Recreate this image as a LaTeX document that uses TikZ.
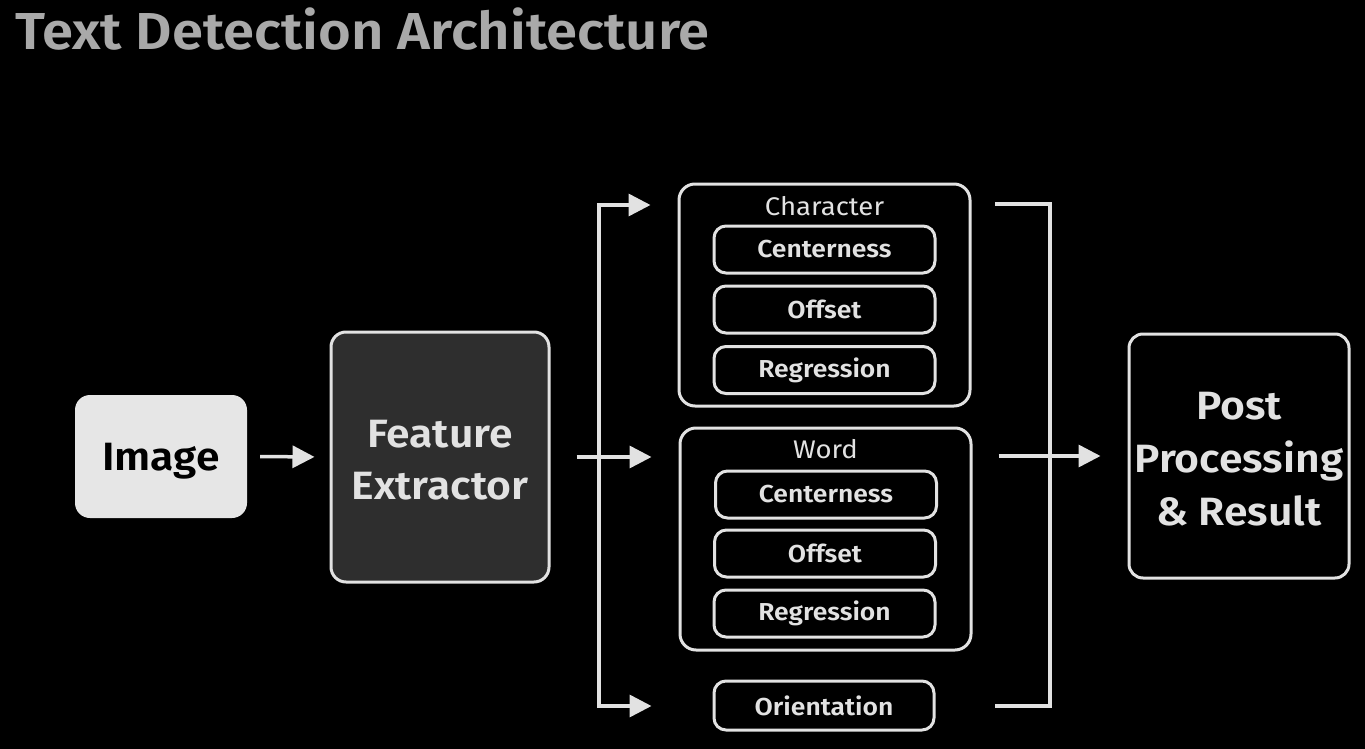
\documentclass[tikz,border=0pt]{standalone}
\usepackage{fontspec}
\setmainfont[FakeStretch=1.08]{Fira Sans}
\IfFontExistsTF{Fira Sans SemiBold}
  {\newfontfamily\semib[FakeStretch=1.08]{Fira Sans SemiBold}}
  {\newcommand\semib{\bfseries}}
\usetikzlibrary{arrows.meta}
\definecolor{ln}{HTML}{E2E2E2}
\definecolor{titlegray}{HTML}{A9A9A9}
\definecolor{imgfill}{HTML}{E6E6E6}
\definecolor{fefill}{HTML}{2E2E2E}
\newcommand\lowerby[2]{\raisebox{-#1}[\height][\depth]{#2}}
\begin{document}
\begin{tikzpicture}[x=1pt,y=-1pt,
  conn/.style={draw=ln, line width=3.5pt},
  arr/.style={conn, -{Triangle[length=22pt,width=22pt]}},
  bigbox/.style={draw=ln, line width=3pt, rounded corners=16pt, fill=black,
    minimum width=291pt, minimum height=222pt},
  subbox/.style={draw=ln, line width=3pt, rounded corners=12pt, fill=black,
    minimum width=221pt, minimum height=47pt, text=ln,
    font=\fontsize{24.5}{28}\selectfont\semib, inner sep=0pt},
  grplabel/.style={text=ln, font=\fontsize{25.5}{28}\selectfont, inner sep=0pt},
  biglabel/.style={text=ln, font=\fontsize{39.5}{53}\selectfont\semib, align=center}
]
\useasboundingbox[fill=black] (0,0) rectangle (1365,749);

\node[anchor=base west, text=titlegray, inner sep=0pt,
  font=\fontsize{52}{60}\selectfont\semib] (title) at (15,50) {Text Detection Architecture};

\node[fill=imgfill, rounded corners=15pt, minimum width=172pt, minimum height=123pt,
  text=black, font=\fontsize{39.5}{48}\selectfont\semib] (img) at (161,456.5) {\lowerby{5pt}{Image}};

\node[biglabel, draw=ln, line width=3pt, fill=fefill, rounded corners=15pt,
  minimum width=218pt, minimum height=250pt] (fe) at (440,457) {\lowerby{5.5pt}{\begin{tabular}{@{}c@{}}Feature\\[-1pt]Extractor\end{tabular}}};

\node[bigbox] (chr) at (824.5,295) {};
\node[grplabel] (chrl) at (824.5,206) {Character};
\node[subbox] (c1) at (824.5,249.5) {Centerness};
\node[subbox] (c2) at (824.5,309.5) {Offset};
\node[subbox] (c3) at (824.5,370) {Regression};

\node[bigbox] (wrd) at (825.5,539) {};
\node[grplabel] (wrdl) at (825.5,449) {Word};
\node[subbox] (w1) at (826,494.5) {Centerness};
\node[subbox] (w2) at (825,553.5) {Offset};
\node[subbox] (w3) at (824.5,613.5) {Regression};

\node[subbox, minimum width=220pt, minimum height=49pt] (ori) at (824,705.5) {Orientation};

\node[biglabel, draw=ln, line width=3pt, fill=black, rounded corners=14pt,
  minimum width=220pt, minimum height=244pt] (post) at (1239,456) {\lowerby{6pt}{\begin{tabular}{@{}c@{}}Post\\Processing\\\&~Result\end{tabular}}};

% connectors
\draw[arr, shorten <=13pt, shorten >=15pt] (img.east) -- (fe.west);

\coordinate (lt) at (599,205);
\coordinate (lb) at (599,706);
\coordinate (lm) at (599,457);
\draw[conn] ([yshift=-1.75pt]lt) -- ([yshift=1.75pt]lb);
\draw[arr, shorten >=27pt] ([xshift=-1.75pt]lt) -- (lt -| chr.west);
\draw[arr, shorten >=61pt] ([xshift=-1.75pt]lb) -- (lb -| ori.west);
\draw[arr, shorten <=26pt, shorten >=27pt] (fe.east) -- (fe.east -| wrd.west);

\coordinate (rt) at (1050,204);
\coordinate (rb) at (1050,706);
\draw[conn] (995,204) -- (rt) -- (rb) -- (995,706);
\draw[arr, shorten <=26pt, shorten >=27pt] (wrd.east |- post.west) -- (post.west);
\end{tikzpicture}
\end{document}
